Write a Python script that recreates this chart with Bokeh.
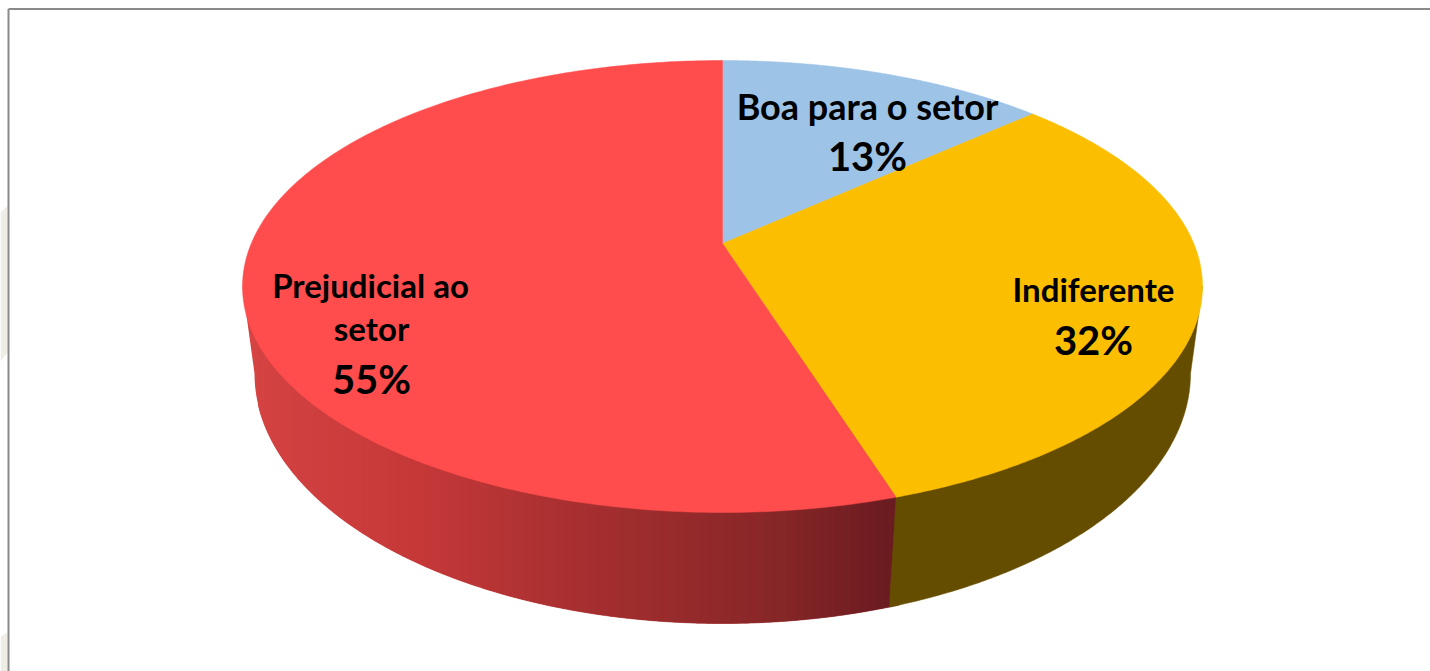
import numpy as np
from bokeh.plotting import figure
from bokeh.models import Range1d
from bokeh.core.properties import value
from bokeh.embed import file_html
from bokeh.resources import INLINE

# Data
categories = ["Boa para o setor", "Indiferente", "Prejudicial ao setor"]
shares = [13, 32, 55]
top_colors = ["#9DC3E6", "#FBBE00", "#FF4D4D"]
side_yellow = "#654D00"
red_side_stops = [(240, (214, 67, 67)), (420, (197, 56, 56)), (600, (163, 46, 47)),
                  (780, (134, 38, 39)), (895, (104, 27, 32))]

# Projection of the disc (pixel units of the picture)
TOP = dict(cx=722, cy=286, rx=480, ry=226, a=0.165)
BOT = dict(cx=722, cy=373, rx=468, ry=250, a=0.15)
APEX = (722, 243)


def project(theta, e):
    """theta: radians clockwise from 12 o'clock; returns screen x, y on the rim."""
    sx, cy_ = np.sin(theta), np.cos(theta)
    d = 1 + e["a"] * cy_
    xp = sx * np.sqrt(1 - e["a"] ** 2) / d
    yp = (cy_ + e["a"]) / d
    return e["cx"] + e["rx"] * xp, e["cy"] - e["ry"] * yp


def mix(x):
    xs = [s[0] for s in red_side_stops]
    rgb = [np.interp(x, xs, [s[1][i] for s in red_side_stops]) for i in range(3)]
    return "#%02x%02x%02x" % tuple(int(round(v)) for v in rgb)


def equator(e):
    """Angle on the right where the rim is at the widest point of the ellipse."""
    return np.arccos(-e["a"])


p = figure(width=1430, height=671, output_backend="svg", toolbar_location=None,
           x_range=Range1d(0, 1430), y_range=Range1d(671, 0),
           min_border=0, outline_line_color=None, background_fill_color="white",
           border_fill_color="white")
p.axis.visible = False
p.grid.visible = False

# Pale shapes behind the picture, left of its frame
p.patch([0, 7, 7, 0], [212, 205, 352, 361], fill_color="#F0EDE6", line_color=None)
p.patch([0, 7, 7, 0], [636, 632, 671, 671], fill_color="#F0EDE6", line_color=None)

cum = np.cumsum([0] + shares) / sum(shares) * 2 * np.pi
split = cum[2]
split_top = project(split, TOP)
split_bot = project(split, BOT)

# Side wall: red part, base shape in the lightest shade
left_top = project(2 * np.pi - equator(TOP), TOP)
arc = np.linspace(split, 2 * np.pi - equator(BOT), 160)
ax, ay = project(arc, BOT)
p.patch(np.r_[split_top[0], left_top[0], ax[::-1]],
        np.r_[split_top[1], left_top[1], ay[::-1]],
        fill_color=mix(240), line_color=None)

# Side wall: red part, shaded in narrow vertical strips
strip_edges = np.arange(258, 906, 8)
xs, ys, cols = [], [], []
for x0, x1 in zip(strip_edges[:-1], strip_edges[1:]):
    sx = np.linspace(x0, x1, 6)
    sy = BOT["cy"] + BOT["ry"] * np.sqrt(1 - ((sx - BOT["cx"]) / BOT["rx"]) ** 2)
    xs.append(np.r_[x0, sx, x1].tolist())
    ys.append(np.r_[BOT["cy"] - 40, sy, BOT["cy"] - 40].tolist())
    cols.append(mix(0.5 * (x0 + x1)))
p.patches(xs, ys, fill_color=cols, line_color=cols, line_width=0.6)

# Side wall: yellow part
right_top = project(equator(TOP), TOP)
arc = np.linspace(equator(BOT), split, 160)
ax, ay = project(arc, BOT)
p.patch(np.r_[right_top[0], ax, split_top[0]],
        np.r_[right_top[1], ay, split_top[1]],
        fill_color=side_yellow, line_color=side_yellow, line_width=0.5)

# Top face
for i in range(len(shares)):
    t = np.linspace(cum[i], cum[i + 1], 240)
    ex, ey = project(t, TOP)
    p.patch(np.r_[APEX[0], ex], np.r_[APEX[1], ey], fill_color=top_colors[i],
            line_color=top_colors[i], line_width=0.5)

# Labels
label_x = [1093, 370, 371]
label_y = [288, 284, 327]
label_text = ["Indiferente", "Prejudicial ao", "setor"]
p.text(label_x, label_y, text=label_text, text_font=value("Lato"), text_font_style="bold",
       text_font_size="33px", text_color="black", text_align="center", text_baseline="middle")
p.text([867], [105], text=["Boa para o setor"], text_font=value("Lato"), text_font_style="bold",
       text_font_size="36px", text_color="black", text_align="center", text_baseline="middle")

pct_x = [867, 1093, 371]
pct_y = [155, 339, 378]
pct_text = [f"{v}%" for v in shares]
p.text(pct_x, pct_y, text=pct_text, text_font=value("Lato"), text_font_style="bold",
       text_font_size="40px", text_color="black", text_align="center", text_baseline="middle")

# Frame of the picture
p.segment([8, 8], [8.5, 8.5], [8, 1430], [671, 8.5], line_color="#8a8a8a", line_width=2)

open("out.html", "w").write(file_html(p, INLINE))
